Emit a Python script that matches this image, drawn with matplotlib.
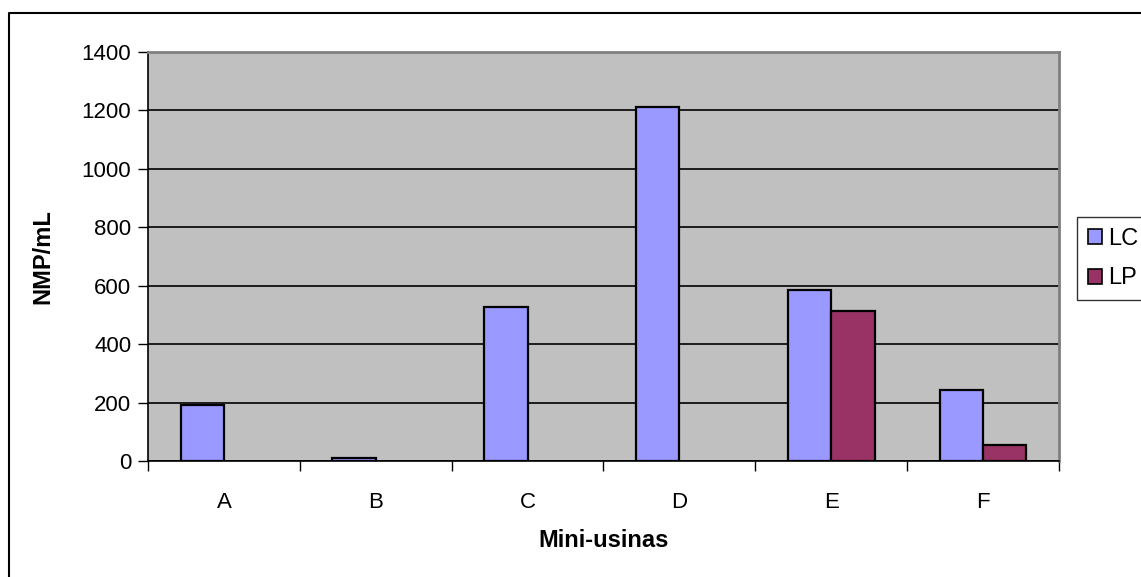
import numpy as np
import matplotlib
matplotlib.use('Agg')
from matplotlib import pyplot as plt
from matplotlib.lines import Line2D
from matplotlib.patches import Patch

plt.rcParams['font.family'] = ['Liberation Sans', 'DejaVu Sans']

categories = ['A', 'B', 'C', 'D', 'E', 'F']
lc = [192, 10, 527, 1212, 584, 243]
lp = [0, 0, 0, 0, 513, 56]
y_ticks = [0, 200, 400, 600, 800, 1000, 1200, 1400]

c_lc = '#9999FF'
c_lp = '#993366'

W, H = 1141, 577
fig = plt.figure(figsize=(W / 100, H / 100), dpi=100)
ax = fig.add_axes([148 / W, 1 - 461 / H, (1059 - 148) / W, (461 - 52) / H])
ax.set_facecolor('#C0C0C0')

x = np.arange(len(categories))
bw = 1 / 3.5
ax.bar(x - bw / 2, lc, bw, color=c_lc, edgecolor='black', linewidth=1.6, zorder=3)
lp_bars = ax.bar(x + bw / 2, lp, bw, color=c_lp, edgecolor='black', linewidth=1.6, zorder=3)
for b, v in zip(lp_bars, lp):
    if v == 0:
        b.set_visible(False)

ax.set_xlim(-0.5, len(categories) - 0.5)
ax.set_ylim(0, 1400)
ax.set_yticks(y_ticks)
ax.yaxis.grid(True, color='black', linewidth=1.2, zorder=1)
ax.set_axisbelow(True)

ax.set_xticks(x)
ax.set_xticklabels(categories, fontsize=16)
ax.tick_params(axis='x', length=0, pad=22)
ax.set_xticks(np.arange(-0.5, len(categories)), minor=True)
ax.tick_params(axis='x', which='minor', length=7, width=1, color='black')
ax.tick_params(axis='y', length=7, width=1, labelsize=16, pad=5)

for side in ['top', 'right']:
    ax.spines[side].set_color('#808080')
    ax.spines[side].set_linewidth(2)
for side in ['left', 'bottom']:
    ax.spines[side].set_color('black')
    ax.spines[side].set_linewidth(1.2)

ax.set_xlabel('Mini-usinas', fontsize=17, fontweight='bold', labelpad=12)
ax.set_ylabel('NMP/mL', fontsize=17, fontweight='bold', labelpad=20)

handles = [Patch(facecolor=c_lc, edgecolor='black', linewidth=1.2, label='LC'),
           Patch(facecolor=c_lp, edgecolor='black', linewidth=1.2, label='LP')]
leg = fig.legend(handles=handles, loc='upper left', bbox_to_anchor=(1077 / W, 1 - 217 / H),
                 fontsize=17, frameon=True, fancybox=False, edgecolor='black',
                 handlelength=0.6, handleheight=0.6, handletextpad=0.25, labelspacing=0.75,
                 borderpad=0.45, borderaxespad=0)
leg.get_frame().set_linewidth(1)

fig.add_artist(Line2D([9 / W, 9 / W, 1], [0, 1 - 12.5 / H, 1 - 12.5 / H],
                      transform=fig.transFigure, color='black', linewidth=1.5))

fig.savefig('out.png', dpi=100)
